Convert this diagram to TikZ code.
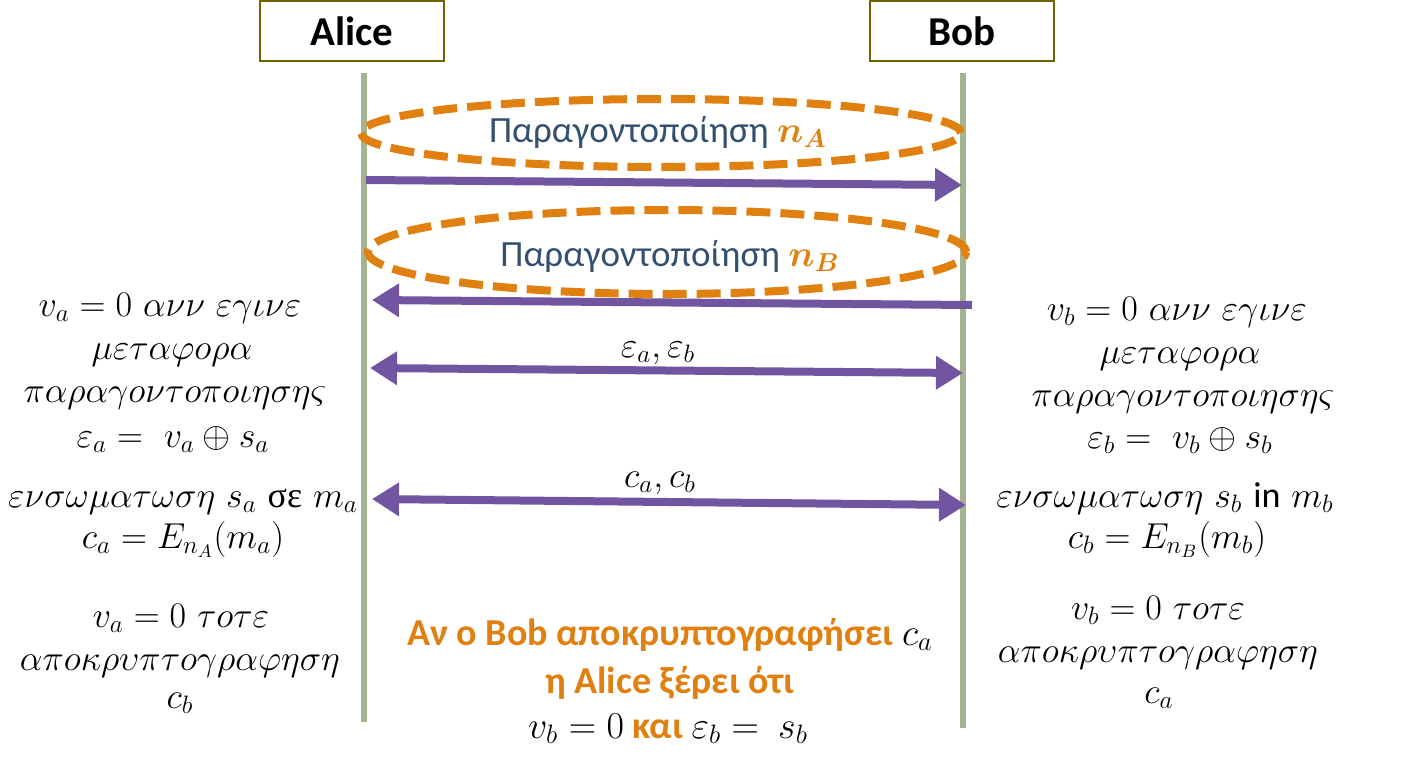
\RequirePackage{fix-cm}
\documentclass[tikz,border=0pt]{standalone}
\usepackage{amsmath}
\usepackage{fontspec}
\usetikzlibrary{arrows.meta,shapes.geometric}
\newfontfamily\calibri{Carlito}
\newfontfamily\grserif{Liberation Serif}
\definecolor{boxolive}{RGB}{112,100,0}
\definecolor{lifegreen}{RGB}{163,180,142}
\definecolor{dashorange}{RGB}{224,128,16}
\definecolor{msgpurple}{RGB}{113,85,160}
\definecolor{slateblue}{RGB}{52,80,112}
\begin{document}
\begin{tikzpicture}[x=0.5pt,y=-0.5pt,
  actor/.style={draw=boxolive,line width=1pt,minimum width=92pt,minimum height=30pt,inner sep=0pt,font=\calibri\bfseries\fontsize{20.5}{24}\selectfont},
  life/.style={draw=lifegreen,line width=3pt},
  factor/.style={ellipse,draw=dashorange,line width=4pt,dash pattern=on 12pt off 5pt,inner sep=0pt},
  msg/.style={draw=msgpurple,line width=4pt,-{Triangle[length=13.5pt,width=16pt]}},
  both/.style={msg,{Triangle[length=13.5pt,width=16pt]}-{Triangle[length=13.5pt,width=16pt]}},
  eq/.style={anchor=base,inner sep=0pt,font=\fontsize{18}{21}\selectfont},
  note/.style={anchor=base,inner sep=0pt,text=slateblue,font=\calibri\fontsize{18.5}{22}\selectfont},
  warn/.style={anchor=base,inner sep=0pt,text=dashorange,font=\calibri\bfseries\fontsize{19}{22}\selectfont}]
\useasboundingbox (0,0) rectangle (1401,766);
\def\eqline#1#2#3#4{\node[eq] (#1) at (#2,#3) {$#4$};}

\node[actor] (alice) at (352,31) {Alice};
\node[actor] (bob) at (962,31) {Bob};

\coordinate (atop) at (364,73);
\coordinate (abot) at (364,722);
\coordinate (btop) at (963,73);
\coordinate (bbot) at (963,728);
\draw[life] (atop) -- (abot);
\draw[life] (btop) -- (bbot);

\node[factor,minimum width=300pt,minimum height=34pt] (ellA) at (661,133) {};
\node[factor,minimum width=299pt,minimum height=42pt] (ellB) at (667,252) {};
\node[note] (factA) at (658,142) {Παραγοντοποίηση {\color{dashorange}$\boldsymbol{n_A}$}};
\node[note] (factB) at (670,266) {Παραγοντοποίηση {\color{dashorange}$\boldsymbol{n_B}$}};

\coordinate (a1) at (366,180);
\coordinate (b1) at (962,185);
\coordinate (b2) at (972,305);
\coordinate (a2) at (372,300);
\coordinate (a3) at (370,368);
\coordinate (b3) at (963,373);
\coordinate (a4) at (372,499);
\coordinate (b4) at (966,505);
\draw[msg] (a1) -- (b1);
\draw[msg] (b2) -- (a2);
\draw[both] (a3) -- (b3);
\draw[both] (a4) -- (b4);
\eqline{eps}{658}{357}{\varepsilon_a,\varepsilon_b}
\eqline{ciph}{660}{487}{c_a,c_b}

\eqline{la1}{170}{316}{v_a=0\ \alpha\nu\nu\ \varepsilon\gamma\iota\nu\varepsilon}
\eqline{la2}{172}{359}{\mu\varepsilon\tau\alpha\varphi o\rho\alpha}
\eqline{la3}{175}{402}{\pi\alpha\rho\alpha\gamma o\nu\tau o\pi o\iota\eta\sigma\eta\varsigma}
\eqline{la4}{173}{447}{\varepsilon_a=\ v_a\oplus s_a}
\eqline{la5}{183}{507}{\varepsilon\nu\sigma\omega\mu\alpha\tau\omega\sigma\eta\ s_a\ \text{\grserif σε}\ m_a}
\eqline{la6}{183}{548}{c_a=E_{n_A}(m_a)}
\eqline{la7}{181}{627}{v_a=0\ \tau o\tau\varepsilon}
\eqline{la8}{180}{670}{\alpha\pi o\kappa\rho\upsilon\pi\tau o\gamma\rho\alpha\varphi\eta\sigma\eta}
\eqline{la9}{180}{708}{c_b}

\eqline{rb1}{1177}{320}{v_b=0\ \alpha\nu\nu\ \varepsilon\gamma\iota\nu\varepsilon}
\eqline{rb2}{1180}{363}{\mu\varepsilon\tau\alpha\varphi o\rho\alpha}
\eqline{rb3}{1183}{406}{\pi\alpha\rho\alpha\gamma o\nu\tau o\pi o\iota\eta\sigma\eta\varsigma}
\eqline{rb4}{1180}{448}{\varepsilon_b=\ v_b\oplus s_b}
\eqline{rb5}{1165}{507}{\varepsilon\nu\sigma\omega\mu\alpha\tau\omega\sigma\eta\ s_b\ \text{\calibri in}\ m_b}
\eqline{rb6}{1167}{548}{c_b=E_{n_B}(m_b)}
\eqline{rb7}{1158}{619}{v_b=0\ \tau o\tau\varepsilon}
\eqline{rb8}{1158}{662}{\alpha\pi o\kappa\rho\upsilon\pi\tau o\gamma\rho\alpha\varphi\eta\sigma\eta}
\eqline{rb9}{1159}{703}{c_a}

\node[warn] (why1) at (670,645) {Αν ο Bob αποκρυπτογραφήσει {\color{black}$c_a$}};
\node[warn] (why2) at (670,693) {η Alice ξέρει ότι};
\node[warn] (why3) at (668,738) {{\color{black}$v_b=0$} και {\color{black}$\varepsilon_b=\ s_b$}};
\end{tikzpicture}
\end{document}
